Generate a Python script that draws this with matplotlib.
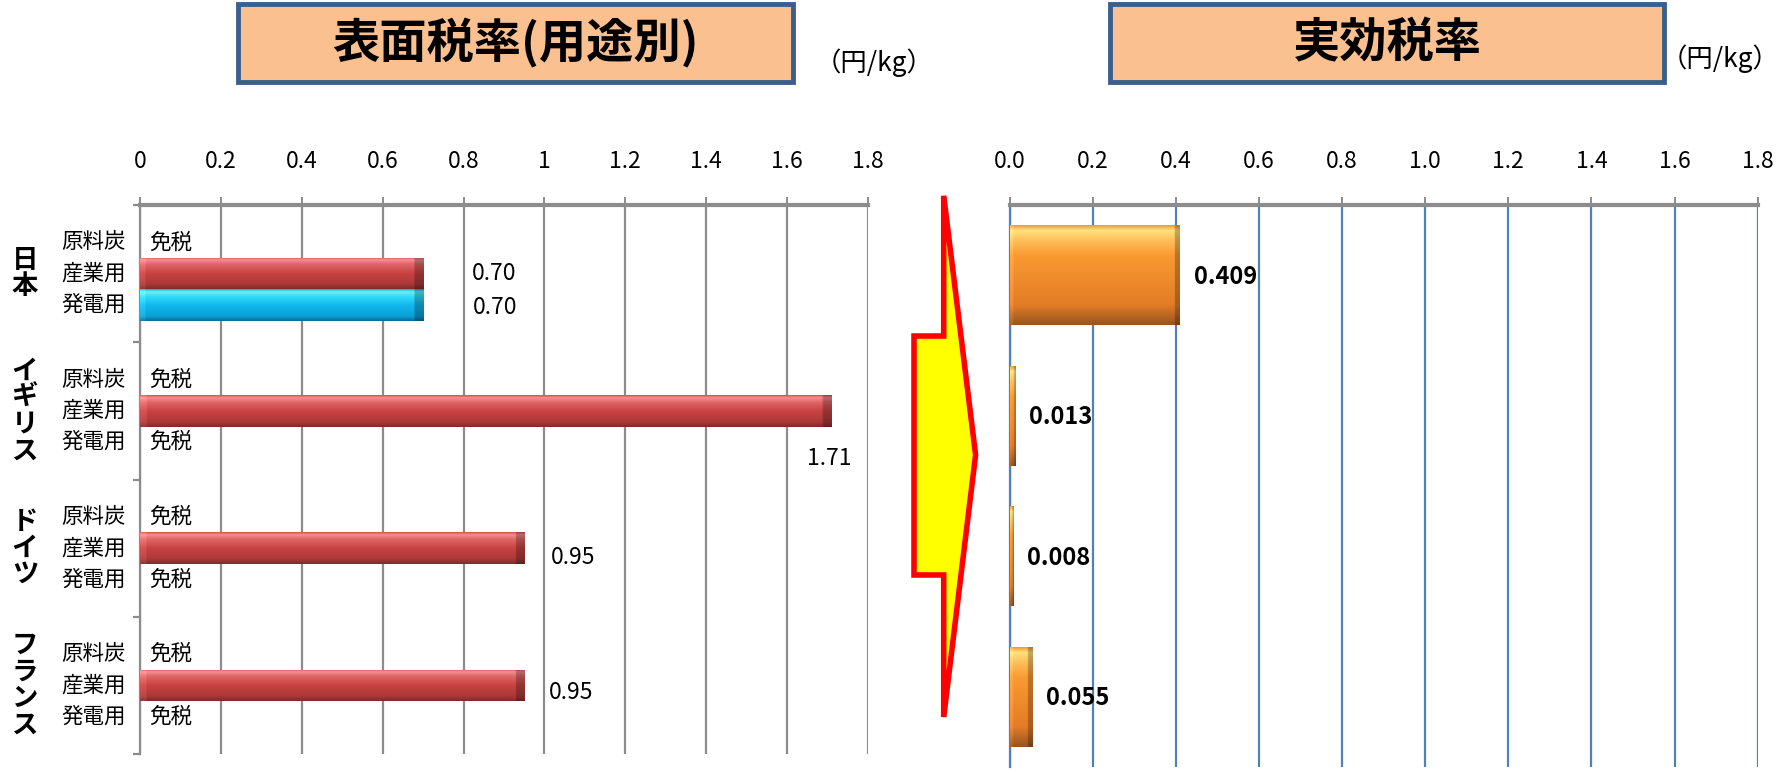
import numpy as np
import matplotlib
matplotlib.use("Agg")
import matplotlib.pyplot as plt
from matplotlib.patches import Rectangle, Polygon
from matplotlib.colors import to_rgb

plt.rcParams['font.family'] = ['Noto Sans CJK JP', 'DejaVu Sans']

# data
countries = ['日本', 'イギリス', 'ドイツ', 'フランス']
uses = ['原料炭', '産業用', '発電用']
coking_rate = [None, None, None, None]        # None = 免税
industry_rate = [0.70, 1.71, 0.95, 0.95]
power_rate = [0.70, None, None, None]
effective_rate = [0.409, 0.013, 0.008, 0.055]
left_ticks = [0, 0.2, 0.4, 0.6, 0.8, 1, 1.2, 1.4, 1.6, 1.8]
left_ticklabels = ['0', '0.2', '0.4', '0.6', '0.8', '1', '1.2', '1.4', '1.6', '1.8']
right_ticks = [0.0, 0.2, 0.4, 0.6, 0.8, 1.0, 1.2, 1.4, 1.6, 1.8]

# label offsets (points) for the left-hand value labels
industry_offsets = [(51, 0), (-2, -34), (35, -7), (34, -5)]
power_offsets = [(52, -2), None, None, None]

W, H = 1785, 773
fig = plt.figure(figsize=(W / 100, H / 100), dpi=100)

RED = [(0.0, '#d65050'), (0.08, '#f39090'), (0.22, '#e06666'), (0.5, '#c94242'),
       (0.85, '#ab3838'), (1.0, '#7c2b2b')]
BLUE = [(0.0, '#18a8dc'), (0.08, '#66f2ff'), (0.25, '#30d8f8'), (0.5, '#10b8ee'),
        (0.85, '#0aa0d6'), (1.0, '#0a6d96')]
ORANGE = [(0.0, '#f39a34'), (0.05, '#ffe27c'), (0.14, '#ffc25e'), (0.3, '#fa9a32'),
          (0.8, '#e27c26'), (1.0, '#985422')]


def bevel_bar(ax, patch, stops, bevel_x):
    x0, y0 = patch.get_x(), patch.get_y()
    w, h = patch.get_width(), patch.get_height()
    if w <= 0:
        return
    ts = np.array([s[0] for s in stops])
    cols = np.array([to_rgb(s[1]) for s in stops])
    ny, nx = 120, 300
    t = np.linspace(0, 1, ny)
    prof = np.stack([np.interp(t, ts, cols[:, k]) for k in range(3)], axis=1)
    img = np.repeat(prof[:, None, :], nx, axis=1)
    xs = np.linspace(0, w, nx)
    bx = min(bevel_x, w * 0.3)
    shade = np.ones(nx)
    shade[xs > w - bx] = 0.75
    lift = np.zeros(nx)
    lift[xs < bx * 0.6] = 0.06
    img = np.clip(img * shade[None, :, None] + lift[None, :, None], 0, 1)
    im = ax.imshow(img, extent=(x0, x0 + w, y0 + h, y0), origin='upper',
                   aspect='auto', interpolation='bilinear', zorder=3)
    im.set_clip_path(patch)


# ---- left chart: statutory rates by use ----
axl = fig.add_axes([140 / W, 1 - 754 / H, 728 / W, 549 / H])
n = len(countries)
centers = np.arange(n)
row = 0.228
axl.set_xlim(0, 1.8)
axl.set_ylim(n - 0.5, -0.5)

series = [coking_rate, industry_rate, power_rate]
stops_for = [RED, RED, BLUE]
for s, (vals, stops) in enumerate(zip(series, stops_for)):
    ys = centers + (s - 1) * row
    widths = [v if v is not None else 0 for v in vals]
    bars = axl.barh(ys, widths, height=row, facecolor='none', linewidth=0, zorder=3)
    for b in bars:
        bevel_bar(axl, b, stops, 0.022)
    for i, v in enumerate(vals):
        if v is None:
            axl.annotate('免税', xy=(0, ys[i]), xytext=(6.5, 0), textcoords='offset points',
                         ha='left', va='center', fontsize=15.5, zorder=5)

for vals, offs, s in [(industry_rate, industry_offsets, 1), (power_rate, power_offsets, 2)]:
    for i, v in enumerate(vals):
        if v is None:
            continue
        axl.annotate(f'{v:.2f}', xy=(v, centers[i] + (s - 1) * row), xytext=offs[i],
                     textcoords='offset points', ha='center', va='center', fontsize=16.5)

axl.set_xticks(left_ticks)
axl.set_xticklabels(left_ticklabels)
axl.grid(axis='x', color='#8c8c8c', linewidth=1.6, zorder=0)
axl.set_axisbelow(True)
axl.tick_params(axis='x', top=True, labeltop=True, bottom=False, labelbottom=False,
                length=6, width=1.4, color='#8c8c8c', pad=17, labelsize=16.5)
axl.set_yticks(np.arange(-0.5, n, 1.0))
axl.set_yticklabels([])
axl.tick_params(axis='y', length=5, width=1.6, color='#8c8c8c')
for side in ['right', 'bottom']:
    axl.spines[side].set_visible(False)
axl.spines['top'].set_color('#8c8c8c')
axl.spines['top'].set_linewidth(3)
axl.spines['left'].set_color('#8c8c8c')
axl.spines['left'].set_linewidth(1.6)

for i, name in enumerate(countries):
    axl.text(-0.158, centers[i], '\n'.join(name), transform=axl.get_yaxis_transform(),
             ha='center', va='center', fontsize=19, fontweight='bold', linespacing=0.98)
    for s, u in enumerate(uses):
        axl.text(-0.02, centers[i] + (s - 1) * row, u, transform=axl.get_yaxis_transform(),
                 ha='right', va='center', fontsize=15.5)

# ---- right chart: effective rates ----
axr = fig.add_axes([1009.7 / W, 1 - 767 / H, 748 / W, 562 / H])
axr.set_xlim(0, 1.8)
axr.set_ylim(n - 0.5, -0.5)
bars = axr.barh(centers, effective_rate, height=0.71, facecolor='none', linewidth=0, zorder=3)
for b in bars:
    bevel_bar(axr, b, ORANGE, 0.012)
for i, v in enumerate(effective_rate):
    axr.annotate(f'{v:.3f}', xy=(v, centers[i]), xytext=(10, -1), textcoords='offset points',
                 ha='left', va='center', fontsize=17, fontweight='bold', zorder=5)

axr.set_xticks(right_ticks)
axr.set_xticklabels([f'{t:.1f}' for t in right_ticks])
axr.grid(axis='x', color='#4f81bd', linewidth=1.6, zorder=0)
axr.set_axisbelow(True)
axr.tick_params(axis='x', top=True, labeltop=True, bottom=False, labelbottom=False,
                length=6, width=1.4, color='#8c8c8c', pad=17, labelsize=16.5)
axr.set_yticks([])
for side in ['right', 'bottom']:
    axr.spines[side].set_visible(False)
axr.spines['top'].set_color('#8c8c8c')
axr.spines['top'].set_linewidth(3)
axr.spines['left'].set_color('#4f81bd')
axr.spines['left'].set_linewidth(1.6)

# ---- title boxes and units ----
for (x0, x1, title) in [(238, 793, '表面税率(用途別)'), (1110, 1664, '実効税率')]:
    fig.add_artist(Rectangle((x0 / W, 1 - 82 / H), (x1 - x0) / W, 78 / H,
                             transform=fig.transFigure, facecolor='#fac090',
                             edgecolor='#3b5f8c', linewidth=3.5))
    fig.text((x0 + x1) / 2 / W, 1 - 43 / H, title, ha='center', va='center',
             fontsize=34, fontweight='bold')
fig.text(934 / W, 1 - 63 / H, '（円/kg）', ha='right', va='center', fontsize=19)
fig.text(1780 / W, 1 - 59 / H, '（円/kg）', ha='right', va='center', fontsize=19)

# ---- arrow between the two charts ----
arrow_px = [(943.7, 195.8), (943.7, 336), (914, 336), (914, 575), (943.7, 575),
            (943.7, 717), (975.6, 455)]
fig.add_artist(Polygon([(x / W, 1 - y / H) for x, y in arrow_px], closed=True,
                       transform=fig.transFigure, facecolor='#ffff00',
                       edgecolor='#ff0000', linewidth=4, joinstyle='miter'))

fig.savefig('out.png', dpi=100)
